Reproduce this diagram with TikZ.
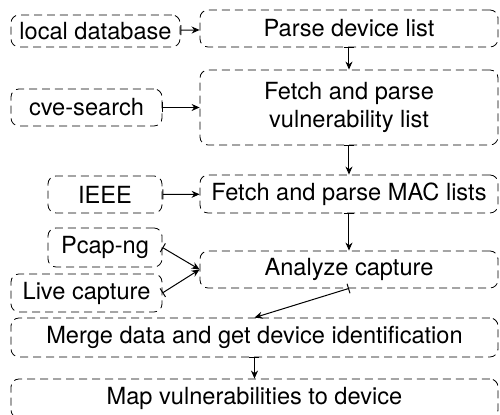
\documentclass[tikz,border=0pt]{standalone}
\usepackage{fontspec}
\setmainfont{TeX Gyre Heros}
\usetikzlibrary{arrows.meta}

\begin{document}
\begin{tikzpicture}[x=0.5pt, y=-0.5pt,
    box/.style={draw, dash pattern=on 4pt off 2.5pt, rounded corners=4pt,
      line width=0.4pt, align=center, inner sep=0pt,
      font=\fontsize{11.8}{14}\selectfont},
    flow/.style={{Bar[width=5pt]}-{Stealth[length=4pt,width=3.5pt]}, line width=0.5pt}]
  \useasboundingbox (0,0) rectangle (500,415);
  \node[box, minimum width=84.5pt, minimum height=16pt] (db) at (95.5,31) {local database};
  \node[box, minimum width=149pt, minimum height=18.5pt] (parse) at (349,28.5) {Parse device list};
  \node[box, minimum width=75.5pt, minimum height=18.5pt] (cve) at (86.5,107.5) {cve-search};
  \node[box, minimum width=149pt, minimum height=37.5pt] (vuln) at (349,107.5) {Fetch and parse\\vulnerability list};
  \node[box, minimum width=57pt, minimum height=18.5pt] (ieee) at (105,194.5) {IEEE};
  \node[box, minimum width=149pt, minimum height=19pt] (mac) at (349,194) {Fetch and parse MAC lists};
  \node[box, minimum width=57pt, minimum height=19.5pt] (pcap) at (105,247.5) {Pcap-ng};
  \node[box, minimum width=149pt, minimum height=18.5pt] (analyze) at (349,269.5) {Analyze capture};
  \node[box, minimum width=75.5pt, minimum height=19pt] (live) at (86.5,293) {Live capture};
  \node[box, minimum width=243.5pt, minimum height=19.5pt] (merge) at (254.5,337.5) {Merge data and get device identification};
  \node[box, minimum width=243.5pt, minimum height=19.5pt] (map) at (254.5,398.5) {Map vulnerabilities to device};
  \draw[flow] (db) -- (parse);
  \draw[flow] (cve) -- (vuln);
  \draw[flow] (ieee) -- (mac);
  \draw[flow] (pcap.east) -- (analyze.west);
  \draw[flow] (live.east) -- (analyze.west);
  \draw[flow] (parse) -- (vuln);
  \draw[flow] (vuln) -- (mac);
  \draw[flow] (mac) -- (analyze);
  \draw[flow] (analyze.south) -- (merge.north);
  \draw[flow] (merge) -- (map);
\end{tikzpicture}
\end{document}
